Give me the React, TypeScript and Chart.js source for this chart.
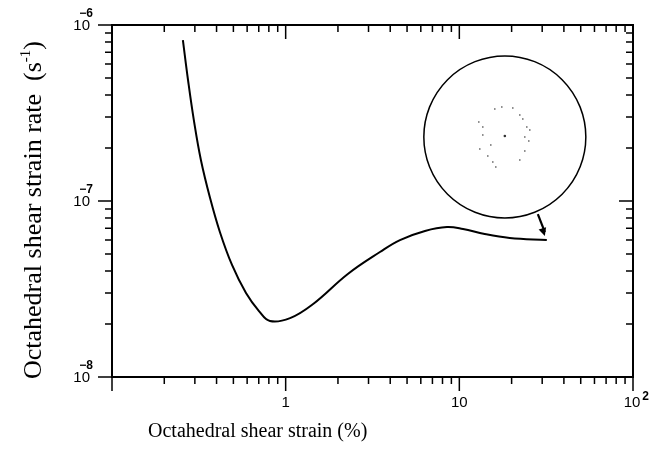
import React, { useEffect, useRef } from "react";
import { Chart, registerables } from "chart.js";

Chart.register(...registerables);

// Octahedral shear strain (%) and strain rate (s^-1)
const strainPct = [0.256, 0.274, 0.296, 0.325, 0.367, 0.418, 0.491, 0.591, 0.702, 0.812, 1.06, 1.44, 2.28, 3.49, 4.55, 6.34, 8.49, 10.5, 14.0, 19.5, 31.9];
const strainRate = [8.2e-7, 4.87e-7, 2.88e-7, 1.71e-7, 1.04e-7, 6.67e-8, 4.33e-8, 3.0e-8, 2.37e-8, 2.08e-8, 2.16e-8, 2.6e-8, 3.85e-8, 5.13e-8, 6.0e-8, 6.76e-8, 7.11e-8, 6.93e-8, 6.49e-8, 6.17e-8, 6.0e-8];

// tick labels
const xLabelValues = [1, 10, 100];
const xLabelBase = ["1", "10", "10"];
const xLabelExp = ["", "", "2"];
const yLabelValues = [1e-6, 1e-7, 1e-8];
const yLabelBase = ["10", "10", "10"];
const yLabelExp = ["\u2212" + "6", "\u2212" + "7", "\u2212" + "8"];

const xTitle = "Octahedral shear strain (%)";
const yTitle = "Octahedral shear strain rate  (s";
const yTitleExp = "-1";
const yTitleEnd = ")";

// decorative specks inside the inset (offsets from circle centre)
const speckDx = [-10, -22, -26, 0, 15, 22, 20, 20, -25, -17, -9, 15, 25, -22, -12, -3, 8, -14, 24, 18];
const speckDy = [-28, -10, -15, -1, -22, -10, 0, 14, 12, 19, 30, 23, -7, -2, 25, -30, -29, 8, 4, -18];

function minorValues(d0: number, d1: number, last: number) {
  const out: { v: number; major: boolean }[] = [];
  for (let d = d0; d <= d1; d++) {
    for (let m = 1; m <= 9; m++) {
      out.push({ v: Number((m * Math.pow(10, d)).toPrecision(3)), major: m === 1 });
    }
  }
  out.push({ v: last, major: true });
  return out;
}

const decorPlugin = {
  id: "decor",
  afterDraw(chart: any) {
    const ctx = chart.ctx as CanvasRenderingContext2D;
    const { left, right, top, bottom } = chart.chartArea;
    const xs = chart.scales.x;
    const ys = chart.scales.y;
    ctx.save();
    ctx.strokeStyle = "#000";
    ctx.fillStyle = "#000";
    // frame
    ctx.lineWidth = 2;
    ctx.strokeRect(left, top, right - left, bottom - top);
    // ticks
    ctx.lineWidth = 1.5;
    const xt = minorValues(-1, 1, 100);
    for (const t of xt) {
      const px = xs.getPixelForValue(t.v);
      const len = t.major ? 14 : 7;
      ctx.beginPath();
      ctx.moveTo(px, bottom);
      ctx.lineTo(px, bottom + len);
      ctx.moveTo(px, top);
      ctx.lineTo(px, top + len);
      ctx.stroke();
    }
    const yt = minorValues(-8, -7, 1e-6);
    for (const t of yt) {
      const py = ys.getPixelForValue(t.v);
      const len = t.major ? 14 : 7;
      ctx.beginPath();
      ctx.moveTo(left - len, py);
      ctx.lineTo(left, py);
      ctx.moveTo(right - len, py);
      ctx.lineTo(right, py);
      ctx.stroke();
    }
    // x tick labels
    const baseFont = "15px 'Liberation Sans', Arial, sans-serif";
    const expFont = "bold 12px 'Liberation Sans', Arial, sans-serif";
    ctx.textBaseline = "middle";
    for (let i = 0; i < xLabelValues.length; i++) {
      const px = xs.getPixelForValue(xLabelValues[i]);
      ctx.font = baseFont;
      const w = ctx.measureText(xLabelBase[i]).width;
      ctx.textAlign = "left";
      const x0 = px - w / 2 - (xLabelExp[i] ? 1 : 0);
      ctx.fillText(xLabelBase[i], x0, bottom + 26);
      if (xLabelExp[i]) {
        ctx.font = expFont;
        ctx.fillText(xLabelExp[i], x0 + w + 2, bottom + 20);
      }
    }
    // y tick labels
    for (let i = 0; i < yLabelValues.length; i++) {
      const py = ys.getPixelForValue(yLabelValues[i]);
      ctx.font = baseFont;
      const w = ctx.measureText(yLabelBase[i]).width;
      const x0 = left - 22 - w;
      ctx.textAlign = "left";
      ctx.fillText(yLabelBase[i], x0, py + 1);
      ctx.font = expFont;
      ctx.fillText(yLabelExp[i], x0 + 6, py - 11);
    }
    // axis titles
    ctx.font = "20px 'Liberation Serif', 'Times New Roman', serif";
    ctx.textAlign = "left";
    ctx.textBaseline = "alphabetic";
    ctx.fillText(xTitle, 148, bottom + 60);

    ctx.save();
    ctx.translate(41, (top + bottom) / 2 + 9);
    ctx.rotate(-Math.PI / 2);
    const yFont = "26px 'Liberation Serif', 'Times New Roman', serif";
    const yExpFont = "15px 'Liberation Serif', 'Times New Roman', serif";
    ctx.font = yFont;
    const w1 = ctx.measureText(yTitle).width;
    ctx.font = yExpFont;
    const w2 = ctx.measureText(yTitleExp).width;
    ctx.font = yFont;
    const w3 = ctx.measureText(yTitleEnd).width;
    const total = w1 + w2 + w3;
    let cx = -total / 2;
    ctx.fillText(yTitle, cx, 0);
    cx += w1;
    ctx.font = yExpFont;
    ctx.fillText(yTitleExp, cx, -11);
    cx += w2;
    ctx.font = yFont;
    ctx.fillText(yTitleEnd, cx, 0);
    ctx.restore();

    // inset circle
    const ccx = left + 0.754 * (right - left);
    const ccy = top + 0.318 * (bottom - top);
    const r = 81;
    ctx.lineWidth = 1.5;
    ctx.beginPath();
    ctx.arc(ccx, ccy, r, 0, Math.PI * 2);
    ctx.stroke();
    ctx.fillStyle = "#333";
    for (let i = 0; i < speckDx.length; i++) {
      ctx.beginPath();
      ctx.arc(ccx + speckDx[i], ccy + speckDy[i], i === 3 ? 1.3 : 0.8, 0, Math.PI * 2);
      ctx.fill();
    }
    // arrow pointing at curve end
    const n = strainPct.length - 1;
    const ex = xs.getPixelForValue(strainPct[n]);
    const ey = ys.getPixelForValue(strainRate[n]);
    const tipX = ex - 2, tipY = ey - 4;
    const stX = ex - 9, stY = ey - 26;
    ctx.strokeStyle = "#000";
    ctx.fillStyle = "#000";
    ctx.lineWidth = 2.2;
    ctx.beginPath();
    ctx.moveTo(stX, stY);
    ctx.lineTo(tipX, tipY - 4);
    ctx.stroke();
    const ang = Math.atan2(tipY - stY, tipX - stX);
    ctx.beginPath();
    ctx.moveTo(tipX, tipY);
    ctx.lineTo(tipX - 9 * Math.cos(ang - 0.45), tipY - 9 * Math.sin(ang - 0.45));
    ctx.lineTo(tipX - 9 * Math.cos(ang + 0.45), tipY - 9 * Math.sin(ang + 0.45));
    ctx.closePath();
    ctx.fill();
    ctx.restore();
  },
};

export default function App() {
  const ref = useRef<HTMLCanvasElement | null>(null);
  useEffect(() => {
    if (!ref.current) return;
    const chart = new Chart(ref.current, {
      type: "line",
      data: {
        datasets: [
          {
            data: strainPct.map((x, i) => ({ x, y: strainRate[i] })),
            borderColor: "#000",
            borderWidth: 2,
            pointRadius: 0,
            fill: false,
            tension: 0.4,
          },
        ],
      },
      options: {
        animation: false,
        responsive: false,
        events: [],
        layout: { padding: { left: 112, top: 25, right: 16, bottom: 96 } },
        plugins: { legend: { display: false }, tooltip: { enabled: false } },
        scales: {
          x: {
            type: "logarithmic",
            min: 0.1,
            max: 100,
            ticks: { display: false },
            grid: { display: false, drawTicks: false },
            border: { display: false },
          },
          y: {
            type: "logarithmic",
            min: 1e-8,
            max: 1e-6,
            ticks: { display: false },
            grid: { display: false, drawTicks: false },
            border: { display: false },
          },
        },
      },
      plugins: [decorPlugin],
    } as any);
    return () => chart.destroy();
  }, []);
  return (
    <div style={{ position: "fixed", left: 0, top: 0, width: 649, height: 473, background: "#fff" }}>
      <canvas ref={ref} width={649} height={473} style={{ display: "block" }} />
    </div>
  );
}
